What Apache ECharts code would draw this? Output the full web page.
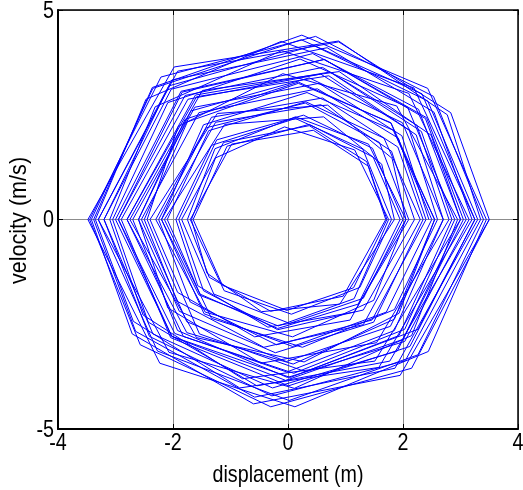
<!DOCTYPE html>
<html>
<head>
<meta charset="utf-8">
<title>Phase portrait</title>
<script src="https://cdn.jsdelivr.net/npm/echarts@6/dist/echarts.min.js"></script>
<style>
  html, body { margin: 0; padding: 0; background: #fff; }
  #chart { width: 523px; height: 490px; }
</style>
</head>
<body>
<div id="chart"></div>
<script>
// Phase-plane trajectory: displacement (m) vs velocity (m/s), one row per cycle.
const displacement = [
  3.50, 2.15, -0.30, -2.57, -3.45, -2.21, 0.48, 2.53,
  3.40, 2.26, 0.02, -2.27, -3.30, -2.02, 0.68, 2.54,
  3.20, 1.77, -0.54, -2.43, -3.05, -2.09, 0.21, 2.08,
  2.90, 2.03, 0.10, -1.82, -2.80, -1.59, 0.71, 2.23,
  2.70, 1.78, -0.03, -1.76, -2.55, -1.55, 0.51, 1.92,
  2.40, 1.46, -0.20, -1.70, -2.25, -1.42, 0.30, 1.59,
  2.10, 1.15, -0.35, -1.57, -1.95, -1.33, 0.13, 1.30,
  1.80, 1.25, 0.06, -1.11, -1.70, -0.98, 0.44, 1.40,
  1.72, 1.14, -0.02, -1.14, -1.65, -1.06, 0.37, 1.48,
  1.95, 1.22, -0.18, -1.53, -2.10, -1.38, 0.31, 1.67,
  2.30, 1.31, -0.42, -1.93, -2.50, -1.75, 0.18, 1.79,
  2.55, 1.85, 0.09, -1.76, -2.80, -1.61, 0.73, 2.32,
  2.85, 1.93, 0.04, -2.02, -3.00, -1.86, 0.63, 2.39,
  3.05, 1.90, -0.27, -2.35, -3.20, -2.07, 0.45, 2.43,
  3.30, 1.86, -0.58, -2.65, -3.38, -2.36, 0.24, 2.43,
  3.45, 2.44, 0.12, -2.23, -3.48, -1.98, 0.88, 2.77,
  3.35, 2.04, -0.28, -2.41, -3.20, -2.03, 0.43, 2.27,
  3.00, 2.00, -0.04, -2.02, -2.95, -1.79, 0.60, 2.24,
  2.80, 1.54, -0.47, -2.09, -2.60, -1.79, 0.18, 1.79,
  2.50, 1.71, 0.08, -1.46, -2.20, -1.26, 0.57, 1.80,
  2.20, 1.31, -0.18, -1.47, -1.90, -1.24, 0.27, 1.47,
  2.00, 1.31, 0.03, -1.29, -1.85, -1.12, 0.37, 1.37,
  1.70, 0.96, -0.30, -1.37, -1.75, -1.27, 0.13, 1.40,
  2.05, 1.49, 0.08, -1.44, -2.30, -1.33, 0.60, 1.91,
  2.35, 1.49, -0.22, -1.89, -2.60, -1.69, 0.37, 1.99,
  2.70, 1.85, -0.02, -1.97, -2.95, -1.84, 0.63, 2.41,
  3.10, 1.58, -0.84, -2.69, -3.35, -2.47, -0.12, 2.19,
  3.25, 2.26, 0.30, -1.54, -2.40, -1.23, 0.69, 1.81,
  2.05, 1.08, -0.58, -1.92, -2.45, -1.91, -0.09, 1.89,
  2.95, 2.15, 0.11, -2.07, -3.30, -1.92, 0.88, 2.83,
  3.50, 1.95, -0.60, -2.71, -3.42, -2.35, 0.23, 2.33,
  3.25, 2.12, 0.01, -2.04, -2.90, -1.74, 0.57, 2.11,
  2.60, 1.85, 0.25, -1.33, -2.15, -1.10, 0.62, 1.63,
  1.85, 0.90, -0.46, -1.41, -1.68, -1.26, -0.06, 1.16,
  1.75, 1.15, -0.17, -1.55, -2.20, -1.47, 0.33, 1.83,
  2.55, 1.93, 0.28, -1.59, -2.75, -1.49, 0.89, 2.49,
  3.00, 1.51, -0.79, -2.52, -3.10, -2.31, -0.11, 2.10,
  3.15, 2.03, -0.01, -1.92, -2.70, -1.62, 0.54, 1.98,
  2.45
];

const velocity = [
  0, -3.55, -4.47, -2.99, 0, 3.40, 4.37, 2.94,
  0, -3.23, -4.32, -3.14, 0, 3.33, 4.10, 2.56,
  0, -3.38, -3.97, -2.45, 0, 2.79, 3.83, 2.68,
  0, -2.62, -3.67, -2.79, 0, 2.93, 3.43, 2.02,
  0, -2.55, -3.39, -2.44, 0, 2.55, 3.12, 1.94,
  0, -2.40, -2.99, -1.97, 0, 2.19, 2.78, 1.84,
  0, -2.21, -2.57, -1.58, 0, 1.77, 2.41, 1.68,
  0, -1.62, -2.26, -1.70, 0, 1.80, 2.13, 1.27,
  0, -1.63, -2.17, -1.57, 0, 1.75, 2.27, 1.49,
  0, -2.02, -2.60, -1.78, 0, 2.12, 2.81, 1.94,
  0, -2.51, -3.05, -1.95, 0, 2.33, 3.25, 2.31,
  0, -2.38, -3.45, -2.70, 0, 2.97, 3.52, 2.10,
  0, -2.77, -3.77, -2.79, 0, 3.06, 3.82, 2.41,
  0, -3.14, -4.02, -2.73, 0, 3.19, 4.15, 2.83,
  0, -3.55, -4.24, -2.67, 0, 3.15, 4.40, 3.13,
  0, -3.15, -4.47, -3.43, 0, 3.64, 4.26, 2.50,
  0, -3.37, -4.21, -2.79, 0, 3.11, 3.96, 2.63,
  0, -2.86, -3.84, -2.79, 0, 2.96, 3.63, 2.25,
  0, -2.94, -3.43, -2.11, 0, 2.39, 3.28, 2.30,
  0, -2.21, -3.03, -2.25, 0, 2.32, 2.74, 1.63,
  0, -2.16, -2.63, -1.70, 0, 1.90, 2.49, 1.70,
  0, -1.88, -2.48, -1.78, 0, 1.84, 2.24, 1.38,
  0, -1.83, -2.19, -1.38, 0, 1.69, 2.45, 1.80,
  0, -1.93, -2.80, -2.21, 0, 2.44, 2.90, 1.73,
  0, -2.45, -3.18, -2.19, 0, 2.59, 3.38, 2.31,
  0, -2.65, -3.64, -2.72, 0, 3.04, 3.82, 2.43,
  0, -3.53, -4.02, -2.43, 0, 2.87, 4.25, 3.14,
  0, -2.62, -3.63, -2.73, 0, 2.53, 2.73, 1.46,
  0, -2.40, -2.80, -1.74, 0, 2.22, 3.48, 2.71,
  0, -2.77, -4.03, -3.17, 0, 3.54, 4.24, 2.55,
  0, -3.72, -4.40, -2.73, 0, 3.13, 4.29, 3.00,
  0, -3.03, -3.97, -2.82, 0, 2.87, 3.47, 2.13,
  0, -2.15, -3.05, -2.36, 0, 2.27, 2.45, 1.32,
  0, -2.02, -2.20, -1.28, 0, 1.47, 2.21, 1.66,
  0, -1.89, -2.54, -1.80, 0, 2.26, 3.03, 2.13,
  0, -2.24, -3.40, -2.82, 0, 3.08, 3.53, 2.01,
  0, -3.38, -3.80, -2.28, 0, 2.69, 4.03, 3.01,
  0, -2.91, -3.77, -2.65, 0, 2.68, 3.25, 2.00,
  0
];

const xTickValues = [-4, -2, 0, 2, 4];
const yTickValues = [-5, 0, 5];
const xTitle = 'displacement (m)';
const yTitle = 'velocity (m/s)';

const trajectory = displacement.map((x, i) => [x, velocity[i]]);

// Text is set in a condensed sans: regular face squeezed horizontally.
const FONT = '24px "Liberation Sans", Arial, Helvetica, sans-serif';
const SQUEEZE = 0.82;

const chart = echarts.init(document.getElementById('chart'), null, { renderer: 'canvas' });

const xMin = xTickValues[0], xMax = xTickValues[xTickValues.length - 1];
const yMin = yTickValues[0], yMax = yTickValues[yTickValues.length - 1];
const xStep = xTickValues[1] - xTickValues[0];
const yStep = yTickValues[1] - yTickValues[0];

const frameAxis = (extra) => Object.assign({
  type: 'value',
  axisLine: { show: true, onZero: false, lineStyle: { color: '#000', width: 1.5 } },
  axisTick: { show: true, inside: true, length: 5, lineStyle: { color: '#000', width: 1 } },
  axisLabel: { show: false },
  splitLine: { show: false }
}, extra);

chart.setOption({
  animation: false,
  backgroundColor: '#fff',
  grid: { left: 58, right: 5, top: 10, bottom: 61, containLabel: false, outerBoundsMode: 'none' },
  xAxis: [
    frameAxis({
      min: xMin, max: xMax, interval: xStep, position: 'bottom',
      axisLine: { show: true, onZero: false, lineStyle: { color: '#000', width: 2 } },
      splitLine: { show: true, lineStyle: { color: '#8c8c8c', width: 1 } }
    }),
    frameAxis({ min: xMin, max: xMax, interval: xStep, position: 'top' })
  ],
  yAxis: [
    frameAxis({
      min: yMin, max: yMax, interval: yStep, position: 'left',
      axisLine: { show: true, onZero: false, lineStyle: { color: '#000', width: 2 } },
      splitLine: { show: true, lineStyle: { color: '#8c8c8c', width: 1 } }
    }),
    frameAxis({ min: yMin, max: yMax, interval: yStep, position: 'right' })
  ],
  series: [
    {
      type: 'line',
      xAxisIndex: 0,
      yAxisIndex: 0,
      data: trajectory,
      showSymbol: false,
      symbol: 'none',
      smooth: false,
      lineStyle: { color: '#0000ff', width: 1 },
      z: 3
    }
  ]
});

// Tick labels and axis titles, placed from the axes' own pixel mapping.
const px = (v) => chart.convertToPixel({ xAxisIndex: 0 }, v);
const py = (v) => chart.convertToPixel({ yAxisIndex: 0 }, v);
const axisBottom = py(yMin);
const axisLeft = px(xMin);

const label = (text, x, y, align, vAlign, rotation, squeeze) => ({
  type: 'text',
  x: x, y: y,
  rotation: rotation || 0,
  scaleX: squeeze || SQUEEZE,
  silent: true,
  style: { text: text, font: FONT, fill: '#000', align: align, verticalAlign: vAlign }
});

const texts = [];
xTickValues.forEach(v => texts.push(label(String(v), px(v), axisBottom + 14, 'center', 'middle')));
yTickValues.forEach(v => texts.push(label(String(v), axisLeft - 4, py(v) + 1, 'right', 'middle')));
texts.push(label(xTitle, (px(xMin) + px(xMax)) / 2, axisBottom + 46, 'center', 'middle'));
texts.push(label(yTitle, axisLeft - 39, (py(yMin) + py(yMax)) / 2 + 1, 'center', 'middle', Math.PI / 2, 0.9));

chart.setOption({ graphic: { elements: texts } });
</script>
</body>
</html>
